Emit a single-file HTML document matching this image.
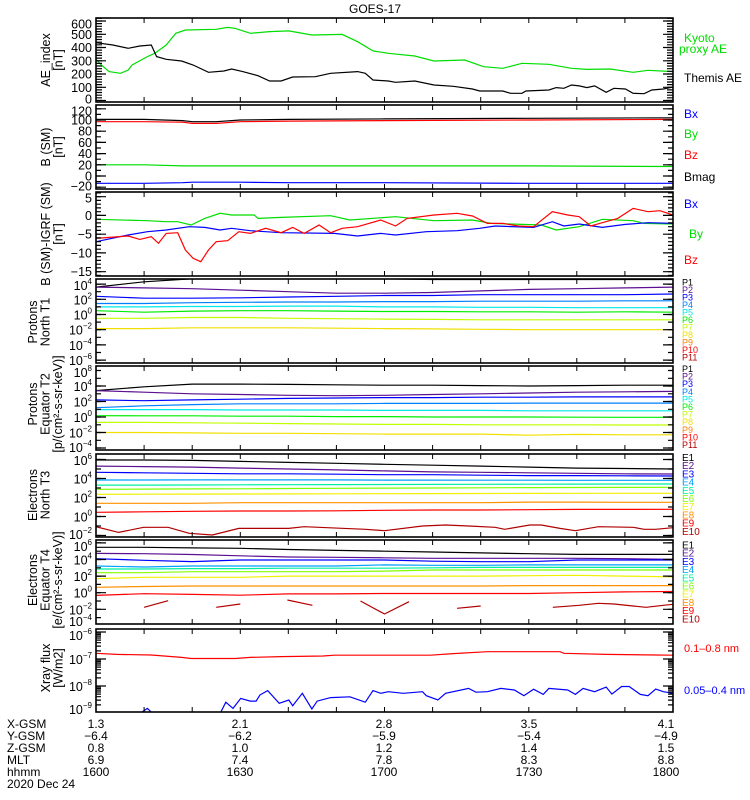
<!DOCTYPE html>
<html><head><meta charset="utf-8"><title>GOES-17</title>
<style>
html,body{margin:0;padding:0;background:#fff;}
svg{display:block;font-family:"Liberation Sans",sans-serif;}
</style></head>
<body>
<svg id="chart" width="750" height="800" viewBox="0 0 750 800" xmlns="http://www.w3.org/2000/svg">
<rect x="0" y="0" width="750" height="800" fill="#fff"/>
<text x="375" y="13" font-size="12" text-anchor="middle">GOES-17</text>
</svg>
<script>
// ---------- data ----------
const aeThemisTime=[0,3.5,6.7,9.1,11.5,12.6,14.6,17.8,20.2,23.4,26.6,28.2,30.5,33.7,36.1,38.5,40.9,45.6,48.8,54.4,56,57.6,60.8,62.3,66.3,70.3,74.3,78.3,79.8,84.6,86.2,88.6,89.4,94.2,95.7,97.3,98.9,100.5,102.1,103.7,106.1,107.7,110.1,111.7,114,115.6,118,120];
const aeThemis=[436,419,394,411,419,331,311,298,268,213,223,238,218,187,147,147,177,180,205,218,205,155,147,137,147,117,107,87,72,72,54,54,72,79,97,92,117,110,97,110,62,92,87,54,51,79,87,102];
const aeKyotoTime=[0,1.1,2.7,5.1,6.7,7.5,10.7,12.2,14.6,16.6,18.6,25,27.4,28.9,32.1,36.1,40.1,44.9,51.2,54.4,57.6,60.8,66.3,70.3,76.7,80.6,84.6,88.6,94.2,98.9,102.1,106.9,111.7,114.8,120];
const aeKyoto=[311,268,218,205,230,268,331,356,419,507,532,537,552,545,507,520,525,494,499,444,374,356,336,298,306,255,243,281,273,243,235,238,213,228,218];
const bTime=[0,10,18,20,25,30,40,60,90,120];
const bMag=[101,101,99,97,97,100,101,102,103,104];
const bZ=[97,97,96,94,94,97,98,99,100,101];
const bY=[20,20,18,18,18,18,18,18,18,17];
const bX=[-13,-13,-12,-11,-11,-11,-12,-12,-13,-13];
const dGreenTime=[0,10.7,14.6,17,19.8,22.6,25.8,28.2,32.9,33.7,38.5,48.8,52.8,62.3,70.3,78.3,82.2,86.2,92.6,95.7,100.5,105.3,111.7,114,120];
const dBy=[-1.04,-1.4,-1.67,-1.67,-2.56,-0.78,0.56,0.11,0.11,-0.78,-0.51,-0.07,-1.22,-0.33,-1.4,-1.22,-2.11,-2.29,-2.56,-3.89,-3.0,-1.04,-1.4,-2.11,-2.29];
const dBlueTime=[0,6.7,10.7,14.6,19.4,22.6,25.8,28.2,32.1,38.5,49.6,54.4,59.2,62.3,68.7,75.1,79.8,83,91,94.9,97.3,100.5,105.3,110.1,114.8,120];
const dBx=[-7.0,-5.22,-4.33,-3.89,-3.0,-3.18,-3.89,-3.44,-4.07,-4.6,-4.78,-5.49,-4.78,-5.22,-4.33,-4.07,-3.44,-2.82,-3.18,-1.67,-2.82,-2.29,-3.18,-2.38,-1.93,-2.11];
const dRedTime=[0,6.7,9.1,11.5,13,14.6,17,18.6,20.2,21.8,23.4,25,27.4,29.7,32.1,35.3,38.5,40.9,43.3,46.4,48.8,51.2,54.4,59.2,62.3,64.7,70.3,75.1,78.3,81.4,84.6,87.8,91,94.9,98.1,100.5,102.9,105.3,108.5,111.7,114.8,117.3,120];
const dBz=[-6.11,-5.49,-6.38,-5.67,-7.44,-4.78,-4.6,-9.22,-11.44,-12.33,-9.22,-7.0,-6.73,-4.33,-4.78,-3.44,-4.6,-3.18,-4.78,-2.56,-4.6,-3.44,-3.0,-1.22,-2.82,-0.78,0.11,0.56,-0.16,-2.11,-2.11,-2.82,-3.0,1.0,0.11,-0.33,-2.82,-1.93,-0.78,1.89,1.0,1.27,0.11];
const fluxTime=[0,10,20,30,40,50,60,70,80,90,100,110,120];
const t1P1=[3.6,4.3,4.7,4.8,4.8,4.7,4.7,4.6,4.6,4.6,4.6,4.6,4.6];
const t1P2=[3.6,3.5,3.4,3.2,3.0,2.8,2.8,2.9,3.1,3.3,3.4,3.5,3.6];
const t1P3=[2.4,2.15,2.15,2.2,2.3,2.4,2.5,2.5,2.6,2.6,2.6,2.6,2.7];
const t1P4=[1.45,1.45,1.55,1.6,1.65,1.65,1.7,1.7,1.75,1.75,1.75,1.8,1.8];
const t1P5=[1.0,1.0,1.05,1.05,1.1,1.1,1.0,1.0,0.95,0.95,0.9,0.9,0.9];
const t1P6=[0.5,0.3,0.45,0.5,0.5,0.45,0.4,0.4,0.35,0.35,0.3,0.35,0.3];
const t1P7=[-0.5,-0.5,-0.4,-0.4,-0.5,-0.55,-0.6,-0.65,-0.7,-0.7,-0.7,-0.7,-0.7];
const t1P8=[-1.85,-1.85,-1.75,-1.75,-1.75,-1.8,-1.85,-1.9,-1.95,-2.0,-2.0,-2.0,-2.0];
const t2P1=[3.4,3.9,4.25,4.25,4.2,4.15,4.1,4.1,4.05,4.0,4.05,4.1,4.1];
const t2P2=[3.4,3.2,3.0,2.9,2.8,2.75,2.8,2.9,3.0,3.1,3.2,3.25,3.3];
const t2P3=[2.2,2.1,2.2,2.3,2.4,2.45,2.5,2.5,2.55,2.55,2.6,2.6,2.6];
const t2P4=[1.2,1.45,1.6,1.7,1.7,1.7,1.75,1.75,1.75,1.8,1.8,1.8,1.8];
const t2P5=[0.95,0.95,0.95,0.9,0.9,0.9,0.85,0.85,0.85,0.8,0.8,0.8,0.8];
const t2P6=[0.17,0.15,0.15,0.1,0.1,0.05,0.05,0,0,0,-0.02,-0.04,-0.04];
const t2P7=[-0.7,-0.7,-0.75,-0.8,-0.85,-0.9,-0.95,-0.95,-1.0,-1.0,-1.0,-1.03,-1.03];
const t2P8=[-2.0,-2.0,-2.05,-2.1,-2.1,-2.15,-2.2,-2.2,-2.2,-2.35,-2.25,-2.3,-2.3];
const t3E1=[5.95,5.95,5.9,5.8,5.7,5.6,5.5,5.4,5.3,5.2,5.1,5.05,5.0];
const t3E2=[5.3,5.25,5.2,5.1,5.0,4.9,4.8,4.7,4.65,4.6,4.55,4.5,4.47];
const t3E3=[4.65,4.6,4.55,4.5,4.5,4.45,4.4,4.4,4.35,4.3,4.3,4.28,4.26];
const t3E4=[3.84,3.84,3.85,3.85,3.85,3.85,3.83,3.83,3.82,3.82,3.81,3.81,3.81];
const t3E5=[3.3,3.3,3.32,3.34,3.35,3.36,3.37,3.38,3.39,3.4,3.41,3.42,3.42];
const t3E6=[2.86,2.88,2.9,2.92,2.95,2.97,2.99,3.0,3.02,3.04,3.05,3.06,3.07];
const t3E7=[2.34,2.35,2.36,2.37,2.38,2.39,2.4,2.41,2.42,2.43,2.44,2.44,2.44];
const t3E8=[1.39,1.39,1.39,1.45,1.45,1.45,1.45,1.45,1.45,1.52,1.52,1.49,1.49];
const t3E9=[0.44,0.5,0.55,0.58,0.58,0.6,0.65,0.68,0.68,0.72,0.75,0.75,0.76];
const t3E10Time=[0,4.7,9.9,15,19.4,24.2,29.7,40.1,43.3,56,60,67.9,72.7,77.5,83,85,90.2,92.6,96.5,99.7,104.5,111.7,114,116.4,120];
const t3E10=[-1.07,-1.67,-1.14,-1.14,-1.77,-1.95,-1.25,-1.25,-1.07,-1.35,-1.49,-1.0,-0.89,-1.0,-1.14,-1.35,-0.89,-0.89,-1.25,-1.49,-1.07,-1.14,-1.35,-1.35,-1.18];
const t4E1=[5.47,5.47,5.4,5.35,5.2,5.1,5.0,4.9,4.8,4.7,4.62,4.62,4.62];
const t4E2=[4.74,4.7,4.6,4.45,4.3,4.26,4.2,4.14,4.14,4.14,4.14,4.1,4.02];
const t4E3=[4.1,3.9,3.75,3.94,3.94,3.94,3.94,3.8,3.74,3.74,3.94,3.94,3.94];
const t4E4=[3.22,3.1,3.22,3.22,3.22,3.22,3.35,3.3,3.3,3.35,3.35,3.35,3.35];
const t4E5=[2.85,2.85,2.9,2.9,2.95,2.95,2.95,3.0,3.05,3.05,3.05,3.05,3.05];
const t4E6=[2.41,2.41,2.53,2.53,2.53,2.53,2.6,2.73,2.73,2.73,2.73,2.73,2.73];
const t4E7=[1.69,1.85,1.85,1.85,2.0,2.0,2.0,2.0,2.0,2.05,2.1,2.0,1.9];
const t4E8=[0.65,0.75,0.81,0.81,0.81,0.81,0.81,0.81,0.81,0.85,0.85,0.85,0.85];
const t4E9=[-0.32,-0.12,-0.2,-0.3,-0.15,-0.15,-0.1,-0.1,-0.1,-0.1,0.0,0.1,0.15];
const t4E10Time=[10,15,null,25,30,null,39.8,45,null,55,60,65.1,null,75.1,80,null,95,100.5,104.5,107.7,111.7,114.4,118,120];
const t4E10=[-1.76,-0.96,null,-1.76,-1.36,null,-0.88,-1.52,null,-1.0,-2.57,-1.08,null,-1.88,-1.6,null,-1.76,-1.52,-1.28,-1.36,-1.6,-1.76,-1.52,-1.4];
const xrLongTime=[0,4.3,11.5,17.8,19.8,28.9,32.1,38.5,47.2,49.6,69.5,74.3,81.4,96.5,97.3,106.1,116.4,120];
const xrLong=[-6.79,-6.83,-6.85,-6.94,-6.98,-6.98,-6.94,-6.91,-6.89,-6.86,-6.86,-6.80,-6.73,-6.73,-6.79,-6.83,-6.85,-6.86];
const xrShortTime=[0,9.1,10.7,11.8,25.8,27,28.5,30.1,32.1,33.3,34.1,35.7,38.1,40.1,40.9,42.9,44.9,46,48.8,52.8,56,57.6,59.2,60.8,63.9,67.9,68.7,71.1,72.7,77.5,79,81.4,84.2,87,89,91,93,94.2,98.1,99.7,101.3,103.7,106.1,107.3,109.3,110.9,113.2,114.8,116.4,118,120];
const xrShort=[-9.02,-9.02,-8.83,-9.02,-9.02,-8.60,-8.83,-8.46,-8.56,-8.56,-8.33,-8.17,-8.64,-8.52,-8.73,-8.27,-8.85,-8.56,-8.43,-8.40,-8.60,-8.17,-8.27,-8.21,-8.27,-8.21,-8.36,-8.52,-8.27,-8.09,-8.23,-8.21,-8.09,-8.15,-8.36,-8.12,-8.31,-8.09,-8.15,-8.31,-8.09,-8.21,-8.04,-8.30,-8.02,-8.02,-8.31,-8.36,-8.11,-8.21,-8.27];
const orbitRowNames=["X-GSM","Y-GSM","Z-GSM","MLT","hhmm"];
const orbitX=["1.3","2.1","2.8","3.5","4.1"];
const orbitY=["-6.4","-6.2","-5.9","-5.4","-4.9"];
const orbitZ=["0.8","1.0","1.2","1.4","1.5"];
const orbitMLT=["6.9","7.4","7.8","8.3","8.8"];
const orbitHHMM=["1600","1630","1700","1730","1800"];

// ---------- helpers ----------
const NS="http://www.w3.org/2000/svg";
const svg=document.getElementById('chart');
const XL=96, XR=673;
function X(t){return XL+t*(XR-XL)/120;}
function mk(tag,attrs,parent){const e=document.createElementNS(NS,tag);for(const k in attrs)e.setAttribute(k,attrs[k]);(parent||svg).appendChild(e);return e;}
const defs=mk('defs',{});

const panels=[
 {id:'ae',top:18,bot:102,y:v=>100.5-0.1325*v},
 {id:'bsm',top:105,bot:189,y:v=>176-0.56*v},
 {id:'bdiff',top:192,bot:276,y:v=>215.45-3.75*v},
 {id:'protons-t1',top:279,bot:363,y:L=>314.5-7.6*L},
 {id:'protons-t2',top:366,bot:450,y:L=>417-7.75*L},
 {id:'electrons-t3',top:454,bot:537,y:L=>516.5-9.5*L},
 {id:'electrons-t4',top:540,bot:624,y:L=>592.7-8.3*L},
 {id:'xray',top:629,bot:712,y:L=>632-27*(L+6)}
];
panels.forEach(p=>{
 const cp=mk('clipPath',{id:'clip-'+p.id},defs);
 mk('rect',{x:XL,y:p.top,width:XR-XL,height:p.bot-p.top},cp);
});

function series(p,times,vals,color,name){
 let d='',pen=false;
 for(let i=0;i<times.length;i++){
  if(times[i]===null||vals[i]===null){pen=false;continue;}
  d+=(pen?'L':'M')+X(times[i]).toFixed(1)+' '+p.y(vals[i]).toFixed(1)+' ';pen=true;
 }
 const el=mk('path',{d:d,fill:'none',stroke:color,'stroke-width':1.2,'clip-path':'url(#clip-'+p.id+')'});
 
 
 return el;
}
function frame(p){
 const r=mk('rect',{x:XL,y:p.top,width:XR-XL,height:p.bot-p.top,fill:'none',stroke:'#000','stroke-width':1.6});
 
 
 let d='';
 for(let t=10;t<120;t+=10){const x=X(t).toFixed(1);d+=`M${x} ${p.bot}V${p.bot-5}M${x} ${p.top}V${p.top+5}`;}
 const tk=mk('path',{d:d,stroke:'#000','stroke-width':1});
 
 
}
function yTicks(p,vals,len){
 let d='';
 vals.forEach(v=>{const y=p.y(v);if(y<p.top-0.5||y>p.bot+0.5)return;d+=`M${XL} ${y.toFixed(1)}H${XL+len}M${XR} ${y.toFixed(1)}H${XR-len}`;});
 const tk=mk('path',{d:d,stroke:'#000','stroke-width':1.2});
 
 
}
function clampY(p,y){return Math.max(p.top+6,Math.min(p.bot-3,y));}
function linLabels(p,vals){
 vals.forEach(v=>{
  const t=mk('text',{x:92,y:(clampY(p,p.y(v))+4.5).toFixed(1),'font-size':12.5,'text-anchor':'end'});
  t.textContent=(v<0?'\u2212'+(-v):String(v));
  
  
 });
}
function logLabels(p,exps){
 exps.forEach(e=>{
  const t=mk('text',{x:92,y:(clampY(p,p.y(e))+5).toFixed(1),'font-size':12.5,'text-anchor':'end'});
  t.appendChild(document.createTextNode('10'));
  const s=mk('tspan',{dy:-6,'font-size':8},t);
  s.textContent=(e<0?'\u2212'+(-e):String(e));
  
  
 });
}
function ytitle(lines,cx,cy,name){
 const g=mk('g',{transform:`translate(${cx},${cy}) rotate(-90)`});
 
 
 lines.forEach((s,i)=>{
  const t=mk('text',{x:0,y:i*12.5,'font-size':12.5,'text-anchor':'middle'},g);
  t.textContent=s;
 });
}
function legend(x,y,txt,color,size,name){
 const t=mk('text',{x:x,y:y,'font-size':size,fill:color});
 t.textContent=txt;
 
 
}
function range(a,b,s){const r=[];for(let v=a;v<=b+1e-9;v+=s)r.push(+v.toFixed(4));return r;}

// ---------- panel 1: AE ----------
let P=panels[0];
series(P,aeKyotoTime,aeKyoto,'#00dd00','kyoto-ae-line');
series(P,aeThemisTime,aeThemis,'#000','themis-ae-line');
frame(P);yTicks(P,range(0,620,20),6);yTicks(P,range(0,600,100),10);
linLabels(P,[600,500,400,300,200,100,0]);
ytitle(['AE_index','[nT]'],50,60,'ae-y-axis-title');
legend(684,42,'Kyoto','#00dd00',12,'legend-kyoto');
legend(679,53,'proxy AE','#00dd00',12,'legend-proxy-ae');
legend(684,82,'Themis AE','#000',12,'legend-themis-ae');

// ---------- panel 2: B SM ----------
P=panels[1];
series(P,bTime,bY,'#00dd00','by-line');
series(P,bTime,bX,'#0000ff','bx-line');
series(P,bTime,bMag,'#000','bmag-line');
series(P,bTime,bZ,'#ff0000','bz-line');
frame(P);yTicks(P,range(-20,120,10),5);yTicks(P,range(-20,120,20),10);
linLabels(P,[120,100,80,60,40,20,0,-20]);
ytitle(['B (SM)','[nT]'],50,147,'bsm-y-axis-title');
legend(684,118,'Bx','#0000ff',12,'legend-bx');
legend(684,138,'By','#00dd00',12,'legend-by');
legend(684,159,'Bz','#ff0000',12,'legend-bz');
legend(684,181,'Bmag','#000',12,'legend-bmag');

// ---------- panel 3: B - IGRF ----------
P=panels[2];
series(P,dGreenTime,dBy,'#00dd00','dby-line');
series(P,dBlueTime,dBx,'#0000ff','dbx-line');
series(P,dRedTime,dBz,'#ff0000','dbz-line');
frame(P);yTicks(P,range(-16,6,1),5);yTicks(P,range(-15,5,5),10);
linLabels(P,[5,0,-5,-10,-15]);
ytitle(['B (SM)-IGRF (SM)','[nT]'],50,234,'bdiff-y-axis-title');
legend(684,208,'Bx','#0000ff',12,'legend-dbx');
legend(689,238,'By','#00dd00',12,'legend-dby');
legend(684,264,'Bz','#ff0000',12,'legend-dbz');

// ---------- proton/electron panels ----------
const pColors=['#000','#5a1090','#0000ff','#0080ff','#00e8e8','#00ee00','#c0ff00','#f0e000','#ff8000','#ff0000','#b00000'];
const eColors=['#000','#5a1090','#0000ff','#00a0ff','#00f0a0','#80ff00','#f0f000','#ff9000','#ff0000','#b00000'];
const t1=[t1P1,t1P2,t1P3,t1P4,t1P5,t1P6,t1P7,t1P8];
const t2=[t2P1,t2P2,t2P3,t2P4,t2P5,t2P6,t2P7,t2P8];
const t3=[t3E1,t3E2,t3E3,t3E4,t3E5,t3E6,t3E7,t3E8,t3E9];
const t4=[t4E1,t4E2,t4E3,t4E4,t4E5,t4E6,t4E7,t4E8,t4E9];

P=panels[3];
t1.forEach((v,i)=>series(P,fluxTime,v,pColors[i],'t1-p'+(i+1)+'-line'));
frame(P);yTicks(P,range(-6,4,1),5);yTicks(P,[4,2,0,-2,-4,-6],10);
logLabels(P,[4,2,0,-2,-4,-6]);
ytitle(['Protons','North T1'],37,322,'protons-t1-y-axis-title');
for(let i=0;i<11;i++)legend(682,285.5+i*7.5,'P'+(i+1),pColors[i],9,'legend-t1-p'+(i+1));

P=panels[4];
t2.forEach((v,i)=>series(P,fluxTime,v,pColors[i],'t2-p'+(i+1)+'-line'));
frame(P);yTicks(P,range(-4,6,1),5);yTicks(P,[4,2,0,-2,-4],10);
logLabels(P,[8,4,2,0,-2,-4]);
ytitle(['Protons','Equator T2','[p/(cm\u00b2-s-sr-keV)]'],37,404,'protons-t2-y-axis-title');
for(let i=0;i<11;i++)legend(682,372+i*7.6,'P'+(i+1),pColors[i],9,'legend-t2-p'+(i+1));

P=panels[5];
t3.forEach((v,i)=>series(P,fluxTime,v,eColors[i],'t3-e'+(i+1)+'-line'));
series(P,t3E10Time,t3E10,eColors[9],'t3-e10-line');
frame(P);yTicks(P,range(-2,6,1),5);yTicks(P,[6,4,2,0,-2],10);
logLabels(P,[6,4,2,0,-2]);
ytitle(['Electrons','North T3'],37,495,'electrons-t3-y-axis-title');
for(let i=0;i<10;i++)legend(682,461+i*8.2,'E'+(i+1),eColors[i],10,'legend-t3-e'+(i+1));

P=panels[6];
t4.forEach((v,i)=>series(P,fluxTime,v,eColors[i],'t4-e'+(i+1)+'-line'));
series(P,t4E10Time,t4E10,eColors[9],'t4-e10-line');
frame(P);yTicks(P,range(-3,6,1),5);yTicks(P,[6,4,2,0,-2,-4],10);
logLabels(P,[6,4,2,0,-2,-4]);
ytitle(['Electrons','Equator T4','[e/(cm\u00b2-s-sr-keV)]'],37,580,'electrons-t4-y-axis-title');
for(let i=0;i<10;i++)legend(682,548.5+i*8.2,'E'+(i+1),eColors[i],10,'legend-t4-e'+(i+1));

// ---------- xray ----------
P=panels[7];
series(P,xrLongTime,xrLong,'#ff0000','xray-long-line');
series(P,xrShortTime,xrShort,'#0000ff','xray-short-line');
frame(P);
const minor=[];for(let d=-10;d<=-6;d++)for(let k=2;k<=9;k++)minor.push(d+Math.log10(k));
yTicks(P,minor,5);yTicks(P,[-6,-7,-8,-9],10);
logLabels(P,[-6,-7,-8,-9]);
ytitle(['Xray  flux','[W/m2]'],50,668,'xray-y-axis-title');
legend(684,652,'0.1\u20130.8 nm','#ff0000',11,'legend-xray-long');
legend(684,694,'0.05\u20130.4 nm','#0000ff',11,'legend-xray-short');

// ---------- orbit table ----------
const rows=[orbitX,orbitY,orbitZ,orbitMLT,orbitHHMM];
const colX=[96,240,384,529,666];
rows.forEach((vals,r)=>{
 const y=728+r*12;
 const lab=mk('text',{x:7,y:y,'font-size':12});
 lab.textContent=orbitRowNames[r];
 
 
 vals.forEach((v,c)=>{
  const t=mk('text',{x:colX[c],y:y,'font-size':12,'text-anchor':'middle'});
  t.textContent=v.replace('-','\u2212');
  
  
 });
});
const dt=mk('text',{x:7,y:788,'font-size':12});
dt.textContent='2020 Dec 24';


</script>
</body></html>
